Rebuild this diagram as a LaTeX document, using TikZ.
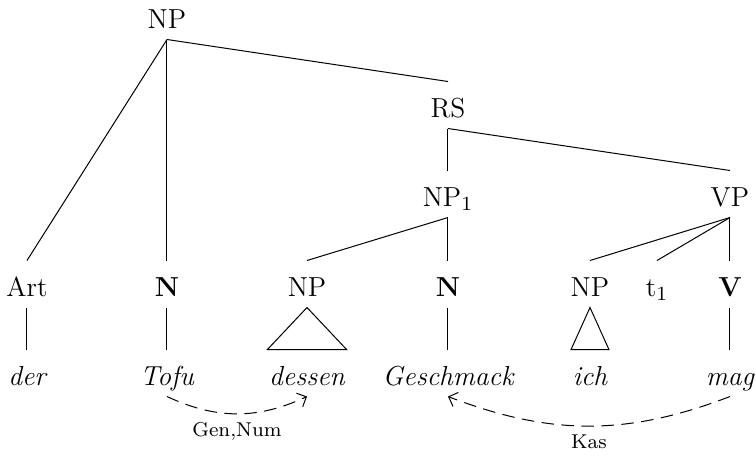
\documentclass[tikz,border=0pt]{standalone}
\usepackage{tikz}
\usetikzlibrary{arrows.meta}

\begin{document}
\begin{tikzpicture}[x=0.4pt,y=-0.4pt,every node/.style={font=\fontsize{11}{13}\selectfont},
    cat/.style={inner xsep=1.5pt,inner ysep=0pt,text height=14pt,text depth=4.4pt,anchor=base},
    word/.style={cat,inner xsep=0.5pt,font=\fontsize{11}{13}\selectfont\itshape},
    gloss/.style={font=\footnotesize},
    dep/.style={-{Straight Barb[length=3pt,width=6pt]},dash pattern=on 5pt off 3pt}]
  \useasboundingbox (0,0) rectangle (756,455);
  % categories
  \node[cat] (np) at (167,28) {NP};
  \node[cat] (rs) at (448,117) {RS};
  \node[cat] (np1) at (448,206) {NP$_1$};
  \node[cat] (vp) at (730,206) {VP};
  \node[cat] (art) at (27,296) {Art};
  \node[cat] (n1) at (167,296) {\textbf{N}};
  \node[cat] (np2) at (307,296) {NP};
  \node[cat] (n2) at (448,296) {\textbf{N}};
  \node[cat] (np3) at (590,296) {NP};
  \node[cat] (tr) at (657,296) {t$_1$};
  \node[cat] (v) at (730,296) {\textbf{V}};
  % words
  \node[word] (der) at (27,385) {der};
  \node[word] (tofu) at (167,385) {Tofu};
  \node[word] (dessen) at (307,385) {dessen};
  \node[word] (geschmack) at (448,385) {Geschmack};
  \node[word] (ich) at (590,385) {ich};
  \node[word] (mag) at (730,385) {mag};
  % branches
  \draw (np.south)--(art.north); \draw (np.south)--(n1.north); \draw (np.south)--(rs.north);
  \draw (rs.south)--(np1.north); \draw (rs.south)--(vp.north);
  \draw (np1.south)--(np2.north); \draw (np1.south)--(n2.north);
  \draw (vp.south)--(np3.north); \draw (vp.south)--(tr.north); \draw (vp.south)--(v.north);
  \draw (art.south)--(der.north); \draw (n1.south)--(tofu.north);
  \draw (n2.south)--(geschmack.north); \draw (v.south)--(mag.north);
  \draw (np2.south)--(dessen.north east)--(dessen.north west)--cycle;
  \draw (np3.south)--(ich.north east)--(ich.north west)--cycle;
  % agreement
  \draw[dep] (tofu.south) to[bend right=25] node[gloss,below] {Gen,Num} (dessen.south);
  \draw[dep] (mag.south) to[bend left=21] node[gloss,below] {Kas} (geschmack.south);
\end{tikzpicture}
\end{document}
